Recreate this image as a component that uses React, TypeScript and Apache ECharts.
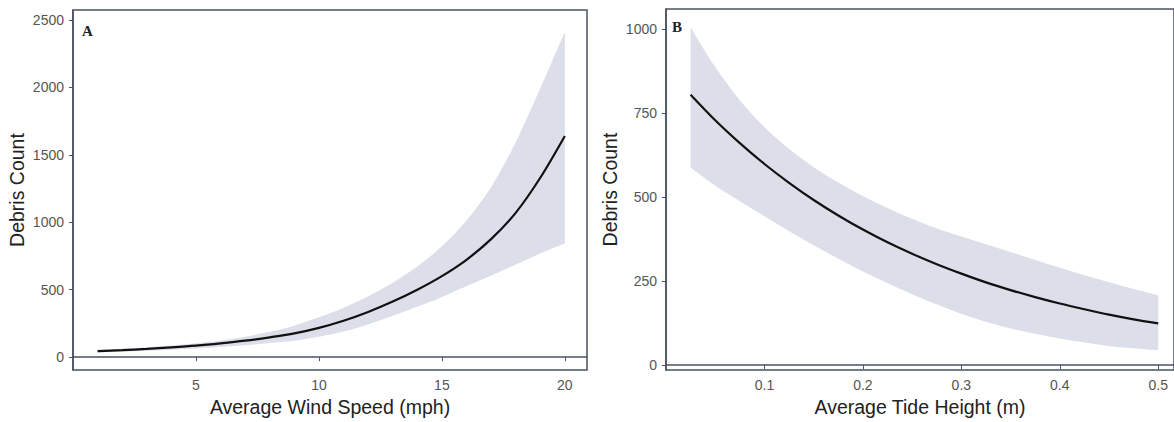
import React, { useEffect, useRef } from "react";
import * as echarts from "echarts";

// Panel A: wind speed
const windX = [1, 2, 3, 4, 5, 6, 7, 8, 9, 10, 11, 12, 13, 14, 15, 16, 17, 18, 19, 20];
const windFit = [44, 52, 61, 72, 85, 102, 122, 147, 176, 217, 270, 335, 412, 500, 601, 722, 875, 1070, 1330, 1640];
const windUpper = [48, 56, 67, 80, 97, 118, 146, 182, 228, 290, 360, 445, 545, 665, 815, 1005, 1250, 1580, 1980, 2400];
const windLower = [40, 46, 53, 61, 70, 81, 94, 110, 128, 156, 196, 248, 312, 380, 452, 532, 610, 692, 775, 850];
const windYTicks = [0, 500, 1000, 1500, 2000, 2500];
const windXTicks = [5, 10, 15, 20];

// Panel B: tide height
const tideX = [0.025, 0.05, 0.075, 0.1, 0.125, 0.15, 0.175, 0.2, 0.225, 0.25, 0.275, 0.3, 0.325, 0.35, 0.375, 0.4, 0.425, 0.45, 0.475, 0.5];
const tideFit = [804, 728, 660, 598, 542, 491, 445, 403, 365, 331, 300, 272, 246, 223, 202, 183, 166, 150, 136, 124];
const tideUpper = [1000, 882, 784, 704, 640, 586, 540, 500, 464, 432, 404, 380, 357, 334, 310, 287, 265, 244, 224, 205];
const tideLower = [590, 536, 490, 445, 401, 359, 319, 281, 246, 213, 183, 155, 131, 111, 95, 81, 69, 59, 52, 46];
const tideYTicks = [0, 250, 500, 750, 1000];
const tideXTicks = [0.1, 0.2, 0.3, 0.4, 0.5];

const AXIS_COLOR = "#4b5163";
const LABEL_COLOR = "#555";
const TITLE_COLOR = "#222";
const BAND_COLOR = "#dcdfea";
const FONT = "Liberation Sans, Arial, sans-serif";

export default function App() {
  const ref = useRef<HTMLDivElement>(null);
  useEffect(() => {
    if (!ref.current) return;
    const chart = echarts.init(ref.current, undefined, { renderer: "svg" });

    const xAxisBase = (idx: number, min: number, max: number, ticks: number[], name: string, fmt: (v: number) => string) => ({
      type: "value",
      gridIndex: idx,
      min,
      max,
      name,
      nameLocation: "middle",
      nameGap: 26,
      nameTextStyle: { color: TITLE_COLOR, fontSize: 19.5, fontFamily: FONT },
      axisLine: { show: true, lineStyle: { color: AXIS_COLOR, width: 1.5 } },
      axisTick: { show: true, customValues: ticks, length: 4, lineStyle: { color: AXIS_COLOR } },
      axisLabel: {
        customValues: ticks,
        color: LABEL_COLOR,
        fontSize: 14,
        fontFamily: FONT,
        margin: 8,
        formatter: (v: number) => fmt(v),
      },
      splitLine: { show: false },
    });
    const yAxisBase = (idx: number, min: number, max: number, ticks: number[]) => ({
      type: "value",
      gridIndex: idx,
      min,
      max,
      name: "Debris Count",
      nameLocation: "middle",
      nameGap: 46,
      nameTextStyle: { color: TITLE_COLOR, fontSize: 19.5, fontFamily: FONT },
      axisLine: { show: true, lineStyle: { color: AXIS_COLOR, width: 1.5 } },
      axisTick: { show: true, customValues: ticks, length: 4, lineStyle: { color: AXIS_COLOR } },
      axisLabel: {
        customValues: ticks,
        color: LABEL_COLOR,
        fontSize: 14,
        fontFamily: FONT,
        margin: 9,
        formatter: (v: number) => String(Math.round(v)),
      },
      splitLine: { show: false },
    });

    const band = (xs: number[], lo: number[], hi: number[], idx: number) => ({
      type: "custom",
      xAxisIndex: idx,
      yAxisIndex: idx,
      data: xs.map((x, i) => [x, lo[i], hi[i]]),
      silent: true,
      z: 1,
      renderItem: (params: any, api: any) => {
        if (params.dataIndex !== 0) return null;
        const top = xs.map((x, i) => api.coord([x, hi[i]]));
        const bot = xs.map((x, i) => api.coord([x, lo[i]])).reverse();
        return {
          type: "group",
          children: [
            {
              type: "polyline",
              shape: { points: top.concat(bot), smooth: 0 },
              style: { fill: BAND_COLOR, stroke: "none" },
            },
            {
              type: "polyline",
              shape: { points: top, smooth: 0.3 },
              style: { fill: "none", stroke: BAND_COLOR, lineWidth: 1.5 },
            },
            {
              type: "polyline",
              shape: { points: bot, smooth: 0.3 },
              style: { fill: "none", stroke: BAND_COLOR, lineWidth: 1.5 },
            },
          ],
        };
      },
    });
    const fit = (xs: number[], ys: number[], idx: number) => ({
      type: "line",
      xAxisIndex: idx,
      yAxisIndex: idx,
      data: xs.map((x, i) => [x, ys[i]]),
      symbol: "none",
      smooth: 0.3,
      lineStyle: { color: "#111", width: 2.2 },
      z: 3,
    });

    chart.setOption({
      animation: false,
      backgroundColor: "#fff",
      grid: [
        { left: 73, top: 10, width: 514, height: 363, show: true, borderColor: AXIS_COLOR, borderWidth: 1.5, backgroundColor: "transparent" },
        { left: 666, top: 9, width: 511, height: 362, show: true, borderColor: AXIS_COLOR, borderWidth: 1.5, backgroundColor: "transparent" },
      ],
      xAxis: [
        xAxisBase(0, 0, 20.9, windXTicks, "Average Wind Speed (mph)", (v) => String(Math.round(v))),
        xAxisBase(1, 0, 0.516, tideXTicks, "Average Tide Height (m)", (v) => v.toFixed(1)),
      ],
      yAxis: [yAxisBase(0, -96, 2574, windYTicks), yAxisBase(1, -15, 1059, tideYTicks)],
      series: [
        band(windX, windLower, windUpper, 0),
        fit(windX, windFit, 0),
        band(tideX, tideLower, tideUpper, 1),
        fit(tideX, tideFit, 1),
      ],
      graphic: [
        { type: "text", left: 82, top: 23, style: { text: "A", fontSize: 15, fontWeight: "bold", fontFamily: "Liberation Serif, DejaVu Serif, serif", fill: "#222" } },
        { type: "text", left: 672, top: 19, style: { text: "B", fontSize: 15, fontWeight: "bold", fontFamily: "Liberation Serif, DejaVu Serif, serif", fill: "#222" } },
      ],
    });
    return () => chart.dispose();
  }, []);
  return <div ref={ref} style={{ position: "fixed", left: 0, top: 0, width: 1174, height: 422 }} />;
}
